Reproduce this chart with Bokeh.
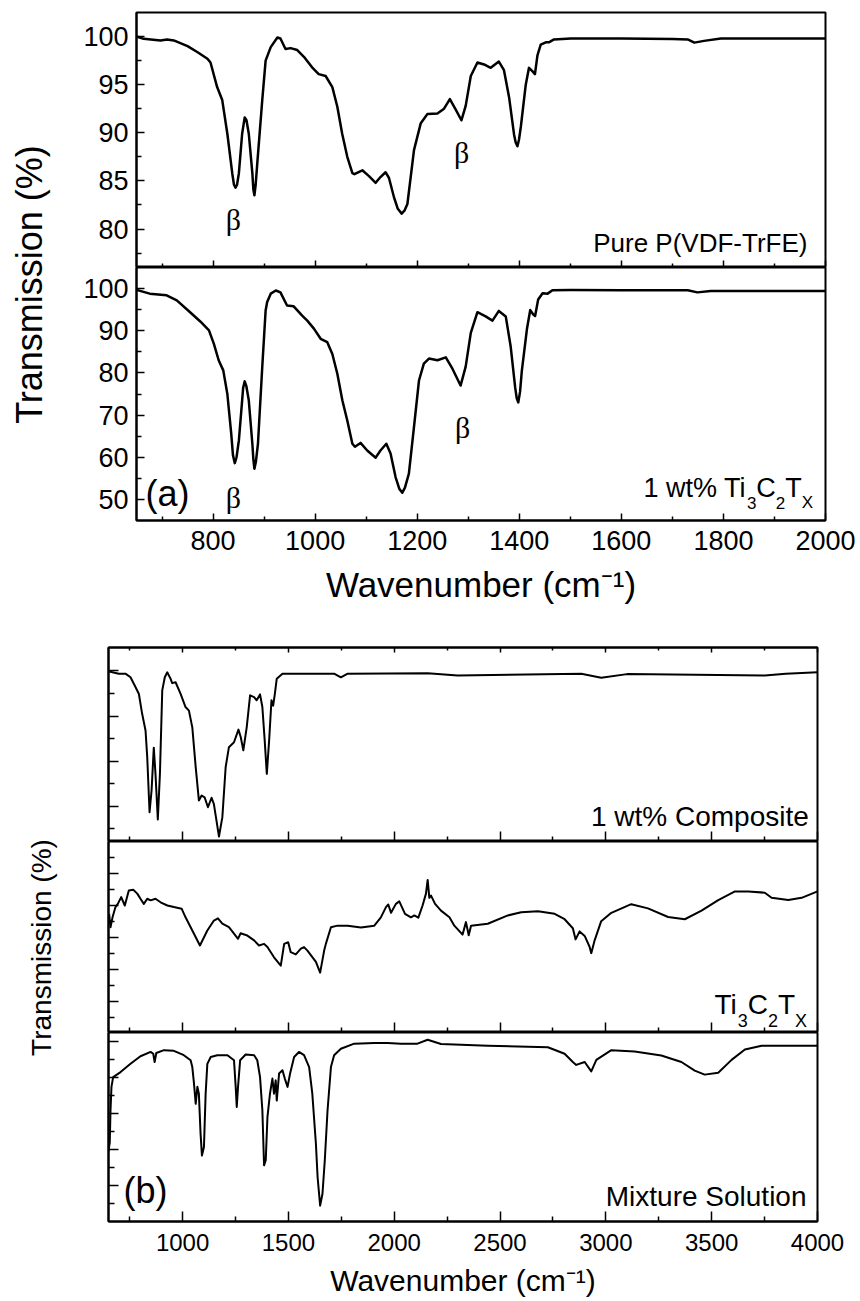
import numpy as np
from bokeh.plotting import figure
from bokeh.layouts import column, row
from bokeh.models import FixedTicker, Label, LinearAxis, Range1d, CustomLabelingPolicy
from bokeh.embed import file_html
from bokeh.resources import INLINE

# ---------------- data: panel (a) ----------------
wn_pure = [650, 664, 697, 710, 723, 750, 769, 789, 795, 808, 818, 828, 837.6, 841, 844, 847, 850.6, 857, 862, 865.5,
           870, 877, 879, 881, 883.5, 886.6, 896.4, 903, 913, 926, 932, 942, 952, 965, 978, 994, 1007, 1020.6,
           1033.7, 1043.5, 1053, 1063, 1073, 1077, 1092.5, 1105.5, 1118.6, 1128, 1138, 1144.7, 1154.5, 1162,
           1169.6, 1175, 1180.8, 1193.7, 1207, 1220, 1239.6, 1252.6, 1264, 1275.5, 1286.6, 1295, 1305, 1318,
           1331, 1344, 1360, 1370, 1380, 1389.8, 1393, 1396.4, 1399.5, 1403, 1412.7, 1419, 1425.6, 1430.7,
           1435.6, 1442, 1452, 1458, 1468, 1501, 1600, 1700, 1730, 1743, 1762, 1795, 1900, 2000]
tr_pure = [100.0, 99.76, 99.6, 99.7, 99.6, 99.0, 98.4, 97.7, 97.3, 94.75, 93.4, 89.9, 85.8, 84.6, 84.3, 84.6, 85.8,
           89.9, 91.6, 91.3, 89.9, 85.8, 84.1, 83.5, 84.6, 86.8, 93.4, 97.5, 98.9, 99.9, 99.8, 98.7, 98.8, 98.6,
           97.9, 96.8, 96.1, 95.9, 94.75, 92.7, 89.9, 87.5, 85.8, 85.7, 86.1, 85.5, 84.8, 85.4, 85.9, 85.3, 83.3,
           82.1, 81.6, 81.9, 82.6, 88.2, 91.0, 91.95, 92.0, 92.5, 93.5, 92.4, 91.3, 92.8, 95.9, 97.3, 97.1, 96.75,
           97.4, 96.5, 93.7, 89.8, 89.0, 88.6, 89.3, 90.6, 95.0, 96.75, 96.4, 96.1, 98.05, 99.15, 99.4, 99.4,
           99.7, 99.8, 99.8, 99.75, 99.7, 99.37, 99.55, 99.8, 99.8, 99.8]

wn_1wt = [650, 676, 709, 729, 755, 775, 792, 801.6, 811, 820, 828, 835.6, 839, 842.6, 846, 850.6, 857, 859, 862, 865,
          870, 877, 879, 881, 884, 888, 896.4, 903, 906, 913, 923, 932, 945, 958, 974.6, 984.6, 997.6, 1010.8,
          1023.8, 1033.7, 1043.5, 1053.3, 1063, 1073, 1078, 1089, 1102, 1118.6, 1128, 1139.5, 1147.8, 1157.6,
          1165, 1170.8, 1176, 1183.7, 1193.7, 1203.5, 1213, 1223, 1239.6, 1256, 1269, 1285, 1295, 1305, 1318,
          1334, 1347.5, 1360, 1373.5, 1383, 1392, 1395, 1398, 1401.5, 1405, 1415, 1421.5, 1427, 1431, 1437,
          1445.7, 1455.5, 1465, 1501, 1600, 1730, 1749, 1775, 1900, 2000]
tr_1wt = [99.7, 98.8, 98.4, 97.2, 94.4, 92.2, 90.1, 86.9, 83.0, 80.6, 75.0, 65.6, 60.5, 58.6, 60.0, 64.0, 73.5,
          76.5, 78.0, 77.0, 73.5, 63.2, 59.5, 57.3, 59.0, 63.2, 81.4, 94.8, 96.8, 98.8, 99.55, 99.1, 96.0, 95.8,
          93.6, 92.4, 90.5, 88.1, 87.3, 84.5, 79.8, 73.5, 68.7, 63.2, 62.5, 63.4, 61.6, 59.9, 61.6, 63.2, 60.9,
          55.3, 52.5, 51.6, 52.8, 56.1, 67.2, 78.2, 82.2, 83.4, 83.0, 83.7, 81.0, 77.0, 81.5, 89.5, 94.4, 93.4,
          92.4, 94.7, 93.4, 86.4, 76.5, 74.0, 73.0, 75.5, 80.5, 90.4, 94.9, 93.9, 93.5, 97.4, 98.9, 98.8, 99.6,
          99.65, 99.6, 99.6, 99.1, 99.4, 99.4, 99.4]

# ---------------- data: panel (b) ----------------
wn_comp = [653, 699, 730, 754, 778, 793.6, 809, 825, 833, 844, 853.5, 864, 872, 883, 893, 904, 916, 927.6, 943, 951,
           967, 990.7, 1014, 1030, 1046, 1062, 1077, 1090, 1104, 1120, 1137, 1148, 1172, 1188, 1203.6, 1219, 1243,
           1264, 1275, 1287, 1303, 1319, 1338, 1350, 1366, 1377, 1388, 1398, 1409, 1420, 1428, 1436, 1445, 1472,
           1716, 1748, 1780, 2158, 2300, 2884, 2978, 3100, 3751, 3850, 4000]
tr_comp = [89.9, 89.4, 89.4, 88.6, 86.4, 84.9, 80.5, 76.8, 70.9, 58.7, 63.5, 73.0, 67.2, 57.1, 67.2, 85.7, 88.6,
           89.7, 88.3, 87.3, 87.5, 84.9, 82.0, 81.2, 77.5, 68.7, 61.3, 62.4, 62.0, 59.8, 61.9, 60.5, 53.3, 57.6,
           68.7, 73.1, 74.2, 77.0, 75.3, 72.4, 77.5, 84.6, 84.2, 83.5, 84.8, 82.0, 74.6, 67.2, 74.6, 83.5, 82.3,
           84.9, 88.3, 89.4, 89.4, 88.6, 89.4, 89.5, 89.0, 89.4, 88.5, 89.3, 89.0, 89.4, 89.7]

wn_mx = [653, 659.5, 669, 683, 694, 710, 727, 746, 767, 786, 801, 817, 833, 849, 872, 896, 928, 959, 995.5, 1014,
         1046, 1082, 1117, 1148, 1167, 1188, 1219, 1243, 1262, 1274, 1306, 1338, 1361, 1385, 1401, 1432, 1464, 1480,
         1499, 1511, 1535, 1559, 1574, 1590, 1614, 1630, 1650, 1669, 1677, 1701, 1732, 1780, 1843, 1906, 1937,
         1961, 1972, 1985, 2008, 2024, 2051, 2079, 2095, 2114, 2134, 2150, 2158, 2166, 2174, 2193, 2221, 2261,
         2284, 2323, 2339, 2352, 2363, 2442, 2537, 2600, 2679, 2758, 2805, 2844, 2857, 2876, 2900, 2923, 2931,
         2947, 2978, 3026, 3120, 3199, 3294, 3373, 3452, 3531, 3610, 3673, 3751, 3783, 3862, 3925, 4000]
tr_mx = [77.5, 73.3, 76.4, 79.6, 80.6, 82.7, 80.1, 84.8, 85.0, 83.8, 82.2, 80.6, 82.2, 81.7, 82.2, 81.1, 80.1, 79.6,
         79.1, 76.4, 72.3, 67.6, 72.3, 75.4, 76.1, 74.4, 73.3, 71.3, 69.7, 71.4, 70.7, 69.2, 67.6, 68.1, 67.1, 63.9,
         61.3, 68.1, 68.6, 65.5, 64.8, 66.6, 67.1, 66.0, 63.9, 62.5, 59.1, 66.0, 68.1, 73.3, 73.8, 73.8, 73.2, 73.8,
         76.4, 79.6, 80.4, 77.8, 80.6, 81.4, 77.5, 76.4, 77.0, 76.3, 80.1, 83.8, 88.1, 82.5, 83.2, 80.6, 78.5, 76.4,
         73.8, 71.0, 74.9, 70.8, 73.8, 74.4, 77.0, 78.0, 78.3, 77.5, 75.8, 73.0, 69.5, 72.0, 70.6, 67.2, 65.2, 69.2,
         75.2, 77.8, 80.5, 79.2, 76.5, 75.8, 78.5, 81.8, 84.5, 84.5, 84.1, 82.5, 81.8, 82.5, 84.5]

wn_sol = [650, 656, 659.5, 664, 672, 707, 754, 801, 849, 861.5, 868, 876, 912, 959, 1006, 1038, 1046, 1054, 1062,
          1070, 1077, 1085, 1091.5, 1101, 1109, 1117, 1133, 1164, 1212, 1243, 1251, 1256, 1262, 1272, 1298, 1338,
          1353, 1366, 1377, 1385, 1393, 1401, 1413, 1424.5, 1432, 1440, 1445, 1456, 1472, 1483, 1496, 1508, 1527,
          1550, 1574, 1598, 1613, 1630, 1638, 1650, 1661, 1672, 1685, 1701, 1716, 1748, 1811, 1906, 1969, 2032,
          2110, 2158, 2221, 2442, 2726, 2805, 2844, 2860, 2900, 2931, 2955, 3026, 3136, 3262, 3357, 3420, 3467,
          3531, 3594, 3657, 3736, 3862, 4000]
tr_sol = [59.5, 62.0, 70.9, 77.4, 80.1, 81.5, 83.8, 85.9, 87.1, 86.6, 84.3, 86.8, 87.6, 87.4, 86.2, 84.8, 82.9,
          78.3, 72.7, 77.4, 75.5, 64.4, 58.3, 60.7, 75.5, 83.8, 85.7, 86.2, 86.2, 84.8, 77.4, 71.8, 77.4, 84.8,
          86.4, 86.2, 84.8, 80.1, 70.9, 55.6, 57.0, 69.0, 75.5, 79.7, 75.5, 79.2, 73.6, 81.1, 82.0, 79.7, 77.4,
          81.1, 85.7, 87.1, 86.2, 82.9, 75.5, 61.6, 52.3, 44.4, 47.7, 57.0, 70.9, 82.9, 86.2, 88.0, 89.4, 89.6,
          89.6, 89.4, 89.4, 90.5, 89.3, 88.8, 88.4, 86.6, 84.3, 83.5, 84.3, 81.7, 84.9, 87.6, 87.2, 86.1, 84.3,
          81.9, 80.8, 81.3, 84.9, 87.8, 88.8, 88.8, 88.8]

# tick values
xa_major = [800, 1000, 1200, 1400, 1600, 1800, 2000]
xa_minor = [700, 900, 1100, 1300, 1500, 1700, 1900]
ya1_major = [80, 85, 90, 95, 100]
ya1_minor = [77.5, 82.5, 87.5, 92.5, 97.5]
ya2_major = [50, 60, 70, 80, 90, 100]
ya2_minor = [55, 65, 75, 85, 95]
xb_major = [1000, 1500, 2000, 2500, 3000, 3500, 4000]
xb_minor = [750, 1250, 1750, 2250, 2750, 3250, 3750]
yb1_major = [60, 70, 80, 90]
yb1_minor = [55, 65, 75, 85]
yb2_major = [50, 60, 70, 80, 90]
yb2_minor = [45, 55, 65, 75, 85, 95]
yb3_major = [50, 60, 70, 80, 90]
yb3_minor = [45, 55, 65, 75, 85]

SANS = "Liberation Sans"
SERIF = "Liberation Serif"
ADV = {'1': 0.556, ' ': 0.278, 'w': 0.722, 't': 0.278, '%': 0.889, 'T': 0.611, 'i': 0.222,
       '3': 0.556, 'C': 0.722, '2': 0.556, 'X': 0.667}


def base_fig(xr, yr, fw, fh, left, right, top, bottom):
    p = figure(x_range=Range1d(*xr), y_range=Range1d(*yr), frame_width=fw, frame_height=fh,
               min_border_left=left, min_border_right=right, min_border_top=top,
               min_border_bottom=bottom, output_backend="svg", toolbar_location=None)
    p.xgrid.visible = False
    p.ygrid.visible = False
    p.outline_line_color = "black"
    p.outline_line_width = 2
    p.outline_line_alpha = 1
    p.border_fill_color = "white"
    p.background_fill_color = "white"
    return p


def style_axis(ax, major, minor, maj_len, min_len, font_size=None, standoff=8):
    ax.ticker = FixedTicker(ticks=major, minor_ticks=minor)
    ax.major_tick_in = maj_len
    ax.major_tick_out = 0
    ax.minor_tick_in = min_len
    ax.minor_tick_out = 0
    ax.axis_line_width = 2
    ax.axis_line_color = "black"
    ax.major_tick_line_width = 1.5
    ax.minor_tick_line_width = 1.5
    ax.major_tick_line_color = "black"
    ax.minor_tick_line_color = "black"
    ax.major_label_text_font = SANS
    ax.major_label_text_color = "black"
    if font_size is None:
        ax.major_label_text_font_size = "0px"
        ax.major_label_standoff = 0
        ax.major_label_policy = CustomLabelingPolicy(code="return new Set()")
    else:
        ax.major_label_text_font_size = font_size
        ax.major_label_standoff = standoff


def axis_title(ax, text, size, standoff):
    ax.axis_label = text
    ax.axis_label_text_font = SANS
    ax.axis_label_text_font_size = size
    ax.axis_label_text_font_style = "normal"
    ax.axis_label_text_color = "black"
    ax.axis_label_standoff = standoff


def label_fig(w, h):
    p = figure(frame_width=w, frame_height=h, x_range=Range1d(0, w), y_range=Range1d(0, h),
               min_border=0, output_backend="svg", toolbar_location=None)
    p.axis.visible = False
    p.xgrid.visible = False
    p.ygrid.visible = False
    p.outline_line_color = None
    p.border_fill_color = "white"
    p.background_fill_color = "white"
    return p


def add_text(p, x, y, text, size, font=SANS, align="left", x_offset=0, y_offset=0, angle=0):
    p.add_layout(Label(x=x, y=y, text=text, text_font=font, text_font_size=size, text_color="black",
                       text_align=align, text_baseline="middle", x_offset=x_offset, y_offset=y_offset,
                       angle=angle))


def add_formula(p, x_right, y, pieces, size, sub_size, sub_drop):
    # pieces: list of (text, is_subscript); laid out leftwards from x_right using Arial advances
    widths = []
    for t, sub in pieces:
        fs = sub_size if sub else size
        widths.append(sum(ADV[c] for c in t) * fs)
    off = -sum(widths)
    for (t, sub), w in zip(pieces, widths):
        add_text(p, x_right, y, t, f"{sub_size if sub else size}px", x_offset=off,
                 y_offset=(-sub_drop if sub else 0))
        off += w


# ---------------- panel (a) ----------------
A1 = base_fig((650, 2000), (76.0, 102.5), 689, 255, 76, 35, 12, 0)
A1.line(wn_pure, tr_pure, line_width=2.5, line_color="black", line_join="round")
style_axis(A1.xaxis[0], xa_major, xa_minor, 7, 4)
style_axis(A1.yaxis[0], ya1_major, ya1_minor, 8, 5, "27px")
add_text(A1, 1964.6, 78.5, "Pure P(VDF-TrFE)", "26px", align="right")
add_text(A1, 840, 81.0, "β", "30px", font=SERIF, align="center")
add_text(A1, 1287, 87.95, "β", "30px", font=SERIF, align="center")

A2 = base_fig((650, 2000), (45, 105), 689, 253, 76, 35, 0, 120)
A2.line(wn_1wt, tr_1wt, line_width=2.5, line_color="black", line_join="round")
style_axis(A2.xaxis[0], xa_major, xa_minor, 7, 4, "27px", 10)
style_axis(A2.yaxis[0], ya2_major, ya2_minor, 8, 5, "27px")
axis_title(A2.xaxis[0], "Wavenumber (cm⁻¹)", "35px", 12)
add_text(A2, 840, 50.5, "β", "30px", font=SERIF, align="center")
add_text(A2, 1289, 67.1, "β", "30px", font=SERIF, align="center")
add_text(A2, 667.6, 51.3, "(a)", "36px")
add_formula(A2, 1975.8, 52.8, [("1 wt% Ti", False), ("3", True), ("C", False), ("2", True),
                               ("T", False), ("X", True)], 27, 17, 15)

labA = label_fig(60, 640)
add_text(labA, 29, 640 - 284, "Transmission (%)", "36px", align="center", angle=np.pi / 2)

# ---------------- panel (b) ----------------
B1 = base_fig((650, 4000), (52.2, 95.2), 709, 194, 46, 43, 7, 0)
B1.line(wn_comp, tr_comp, line_width=2, line_color="black", line_join="round")
style_axis(B1.xaxis[0], xb_major, xb_minor, 10, 5)
top_axis = LinearAxis()
B1.add_layout(top_axis, "above")
style_axis(top_axis, xb_major, xb_minor, 5, 3)
style_axis(B1.yaxis[0], yb1_major, yb1_minor, 10, 6)
add_text(B1, 3959, 57.7, "1 wt% Composite", "28px", align="right")

B2 = base_fig((650, 4000), (40.4, 100.1), 709, 191, 46, 43, 0, 0)
B2.line(wn_mx, tr_mx, line_width=2, line_color="black", line_join="round")
style_axis(B2.xaxis[0], xb_major, xb_minor, 10, 5)
style_axis(B2.yaxis[0], yb2_major, yb2_minor, 10, 6)
add_formula(B2, 3951, 49.0, [("Ti", False), ("3", True), ("C", False), ("2", True),
                             ("T", False), ("X", True)], 28, 18, 16)

B3 = base_fig((650, 4000), (40, 92.5), 709, 189, 46, 43, 0, 78)
B3.line(wn_sol, tr_sol, line_width=2, line_color="black", line_join="round")
style_axis(B3.xaxis[0], xb_major, xb_minor, 10, 5, "24px", 12)
style_axis(B3.yaxis[0], yb3_major, yb3_minor, 10, 6)
axis_title(B3.xaxis[0], "Wavenumber (cm⁻¹)", "30px", 10)
add_text(B3, 3948, 46.9, "Mixture Solution", "28px", align="right")
add_text(B3, 720.9, 48.6, "(b)", "36px")

labB = label_fig(62, 659)
add_text(labB, 41, 659 - 307, "Transmission (%)", "28px", align="center", angle=np.pi / 2)

page = column(row(labA, column(A1, A2)), row(labB, column(B1, B2, B3)))
open("out.html", "w").write(file_html(page, INLINE))
